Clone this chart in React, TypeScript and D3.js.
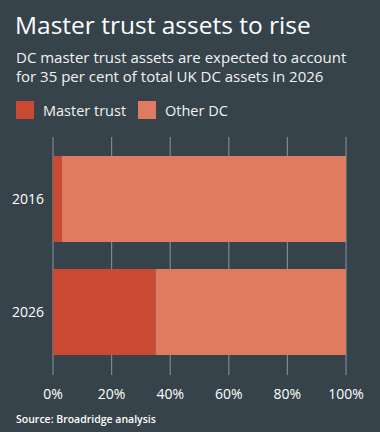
import React from "react";
import * as d3 from "d3";

const categories = ["2016", "2026"];
const masterTrust = [3, 35];
const otherDC = [97, 65];
const seriesNames = ["Master trust", "Other DC"];
const xTicks = [0, 20, 40, 60, 80, 100];

const W = 380, H = 432;
const BG = "#36434b";
const C1 = "#cb4a33";
const C2 = "#e07b60";
const GRID = "#7d898f";
const FONT = "'Open Sans', 'Noto Sans', sans-serif";

export default function App() {
  const x = d3.scaleLinear().domain([0, 100]).range([53, 346]);
  const y = d3.scaleBand().domain(categories).range([144.7, 366.3]).paddingInner(0.239).paddingOuter(0.1);
  const stacks = categories.map((c, i) => ({ c, a: masterTrust[i], b: otherDC[i] }));
  return (
    <div style={{ position: "fixed", left: 0, top: 0 }}>
      <svg width={W} height={H} style={{ display: "block" }}>
        <rect width={W} height={H} fill={BG} />
        <text x={15} y={34} fill="#fff" fontFamily={FONT} fontSize={24.5} fontWeight={500}>Master trust assets to rise</text>
        <text x={16} y={63} fill="#f2f2f2" fontFamily={FONT} fontSize={15}>DC master trust assets are expected to account</text>
        <text x={16} y={82} fill="#f2f2f2" fontFamily={FONT} fontSize={15}>for 35 per cent of total UK DC assets in 2026</text>
        {seriesNames.map((s, i) => (
          <g key={s} transform={`translate(${i === 0 ? 16 : 138},101)`}>
            <rect width={18} height={18} fill={i === 0 ? C1 : C2} />
            <text x={27} y={14.5} fill="#f2f2f2" fontFamily={FONT} fontSize={14.5}>{s}</text>
          </g>
        ))}
        {xTicks.map(t => (
          <line key={t} x1={x(t)} x2={x(t)} y1={137} y2={375} stroke={GRID} strokeWidth={1.2} />
        ))}
        {stacks.map(d => (
          <g key={d.c}>
            <rect x={x(0)} y={y(d.c)} width={x(d.a) - x(0)} height={y.bandwidth()} fill={C1} />
            <rect x={x(d.a)} y={y(d.c)} width={x(d.a + d.b) - x(d.a)} height={y.bandwidth()} fill={C2} />
            <text x={44} y={(y(d.c) as number) + y.bandwidth() / 2 + 5} textAnchor="end" fill="#fff" fontFamily={FONT} fontSize={14}>{d.c}</text>
          </g>
        ))}
        {xTicks.map(t => (
          <text key={t} x={x(t)} y={399} textAnchor="middle" fill="#fff" fontFamily={FONT} fontSize={14}>{t}%</text>
        ))}
        <text x={16} y={423} fill="#fff" fontFamily={FONT} fontSize={10.5} fontWeight={600}>Source: Broadridge analysis</text>
      </svg>
    </div>
  );
}
